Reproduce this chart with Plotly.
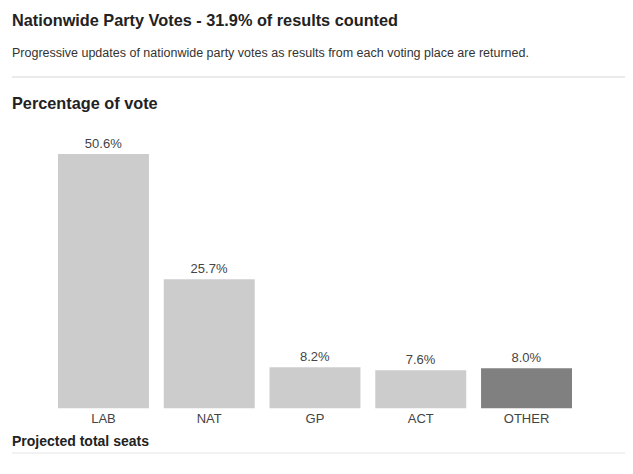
import plotly.graph_objects as go

# page body has an 8px margin, so the figure starts at (8, 8) in the window
OFF = 8
W, H = 633 - OFF, 474 - OFF

parties = ['LAB', 'NAT', 'GP', 'ACT', 'OTHER']
vote_pct = [50.6, 25.7, 8.2, 7.6, 8.0]
bar_colors = ['#cccccc', '#cccccc', '#cccccc', '#cccccc', '#808080']
seats = [64, 33, 11, 10, 2]

title = 'Nationwide Party Votes - 31.9% of results counted'
subtitle = 'Progressive updates of nationwide party votes as results from each voting place are returned.'
FONT = 'Liberation Sans, Arial, sans-serif'


def px(x):
    return (x - OFF) / W


def py(y):
    return 1 - (y - OFF) / H


fig = go.Figure(go.Bar(
    x=parties, y=vote_pct,
    marker=dict(color=bar_colors, line=dict(width=0)),
    text=[f'{v:.1f}%' for v in vote_pct],
    textposition='outside',
    textfont=dict(family=FONT, size=13, color='#444'),
    cliponaxis=False,
    hoverinfo='skip'
))

fig.update_layout(
    width=W, height=H,
    margin=dict(l=0, r=0, t=0, b=0),
    paper_bgcolor='white', plot_bgcolor='white',
    bargap=0.14,
    showlegend=False,
    xaxis=dict(domain=[px(50.6), px(579.4)], showgrid=False, showline=False,
               ticks='', tickfont=dict(family=FONT, size=13, color='#444'),
               fixedrange=True),
    yaxis=dict(domain=[py(408.5), py(132)], range=[0, 55], visible=False,
               fixedrange=True),
)

annots = [
    dict(text=f'<b>{title}</b>', x=px(10), y=py(20), font=dict(size=16.3, color='#222')),
    dict(text=subtitle, x=px(10), y=py(53), font=dict(size=12.5, color='#333')),
    dict(text='<b>Percentage of vote</b>', x=px(10), y=py(103), font=dict(size=16.3, color='#222')),
    dict(text='<b>Projected total seats</b>', x=px(10), y=py(441), font=dict(size=14, color='#222')),
]
for a in annots:
    fig.add_annotation(xref='paper', yref='paper', xanchor='left', yanchor='middle',
                       showarrow=False, **{k: v for k, v in a.items() if k != 'font'},
                       font=dict(family=FONT, **a['font']))

# seat numbers, cut off at the bottom edge of the picture
for p, s in zip(parties, seats):
    fig.add_annotation(x=p, xref='x', y=py(470), yref='paper', yanchor='top',
                       text=str(s), showarrow=False,
                       font=dict(family=FONT, size=14, color='#333'))

fig.add_shape(type='line', xref='paper', yref='paper', x0=px(12), x1=1,
              y0=py(77), y1=py(77), line=dict(color='#e3e3e3', width=1.5))
fig.add_shape(type='line', xref='paper', yref='paper', x0=px(12), x1=1,
              y0=py(453), y1=py(453), line=dict(color='#eeeeee', width=1.5))

fig.write_html('out.html')
